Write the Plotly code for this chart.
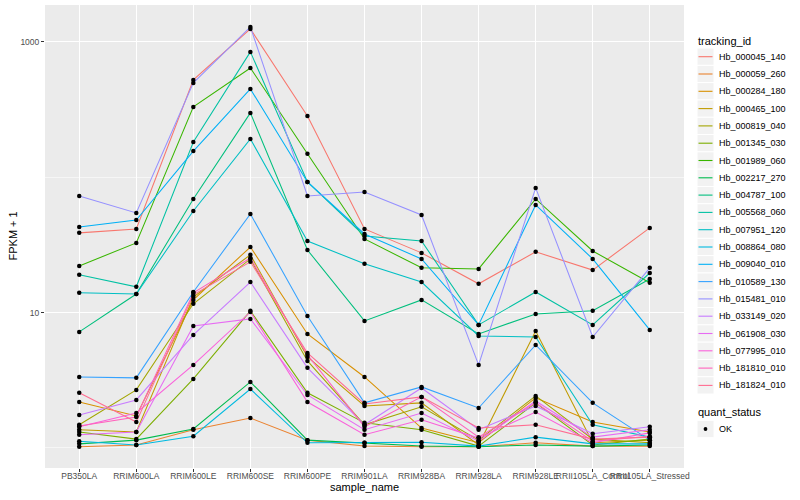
import plotly.graph_objects as go

samples = ["PB350LA", "RRIM600LA", "RRIM600LE", "RRIM600SE", "RRIM600PE", "RRIM901LA",
           "RRIM928BA", "RRIM928LA", "RRIM928LE", "RRII105LA_Control", "RRII105LA_Stressed"]

tracking_ids = ["Hb_000045_140", "Hb_000059_260", "Hb_000284_180", "Hb_000465_100",
                "Hb_000819_040", "Hb_001345_030", "Hb_001989_060", "Hb_002217_270",
                "Hb_004787_100", "Hb_005568_060", "Hb_007951_120", "Hb_008864_080",
                "Hb_009040_010", "Hb_010589_130", "Hb_015481_010", "Hb_033149_020",
                "Hb_061908_030", "Hb_077995_010", "Hb_181810_010", "Hb_181824_010"]

colors = ["#F8766D", "#EA8331", "#D89000", "#C09B00", "#A3A500", "#7CAE00", "#39B600",
          "#00BB4E", "#00BF7D", "#00C1A3", "#00BFC4", "#00BAE0", "#00B0F6", "#35A2FF",
          "#9590FF", "#C77CFF", "#E76BF3", "#FA62DB", "#FF62BC", "#FF6C91"]

# FPKM + 1 per sample (order of `samples`)
hb_000045_140 = [38.8, 41.5, 524, 1248, 284, 41.5, 27.6, 16.3, 28.1, 20.6, 42.2]
hb_000059_260 = [1.02, 1.05, 1.36, 1.66, 1.14, 1.03, 1.02, 1.02, 1.09, 1.03, 1.03]
hb_000284_180 = [2.18, 1.72, 12.4, 30.5, 6.95, 3.34, 1.40, 1.09, 2.34, 1.55, 1.31]
hb_000465_100 = [1.36, 1.31, 13.0, 26.7, 4.70, 2.04, 2.15, 1.05, 7.31, 1.09, 1.14]
hb_000819_040 = [1.48, 2.68, 11.6, 24.9, 4.39, 1.48, 2.01, 1.14, 2.42, 1.16, 1.09]
hb_001345_030 = [1.31, 1.16, 3.23, 10.3, 2.55, 1.53, 1.36, 1.03, 2.15, 1.05, 1.16]
hb_001989_060 = [22.1, 32.7, 331, 642, 149, 35.0, 21.4, 21.0, 69.1, 28.5, 16.6]
hb_002217_270 = [1.07, 1.14, 1.38, 3.07, 1.14, 1.09, 1.03, 1.02, 1.05, 1.03, 1.05]
hb_004787_100 = [7.19, 13.7, 69.1, 299, 29.0, 8.67, 12.4, 6.95, 9.77, 10.3, 17.7]
hb_005568_060 = [19.0, 15.5, 182, 844, 92.3, 36.8, 33.8, 8.10, 14.2, 8.10, 19.6]
hb_007951_120 = [14.0, 13.7, 56.3, 192, 33.8, 22.9, 16.8, 6.71, 6.60, 1.48, 1.20]
hb_008864_080 = [1.12, 1.05, 1.22, 2.72, 1.09, 1.09, 1.10, 1.03, 1.20, 1.07, 1.07]
hb_009040_010 = [42.9, 48.3, 156, 449, 92.3, 38.1, 24.9, 8.10, 62.4, 24.9, 7.44]
hb_010589_130 = [3.34, 3.29, 14.2, 53.5, 9.44, 2.15, 2.82, 1.97, 5.76, 2.15, 1.14]
hb_015481_010 = [72.7, 54.5, 498, 1291, 72.7, 77.9, 52.6, 4.10, 83.4, 6.60, 21.4]
hb_033149_020 = [1.75, 2.26, 6.83, 16.8, 3.90, 1.48, 2.77, 1.36, 2.04, 1.27, 1.43]
hb_061908_030 = [1.25, 1.31, 7.96, 8.97, 2.46, 1.36, 1.81, 1.12, 2.22, 1.20, 1.36]
hb_077995_010 = [1.43, 1.81, 4.10, 10.1, 2.18, 1.25, 1.61, 1.18, 1.84, 1.09, 1.29]
hb_181810_010 = [1.45, 1.69, 14.0, 25.3, 4.86, 1.43, 2.38, 1.20, 2.15, 1.12, 1.22]
hb_181824_010 = [2.55, 1.55, 13.5, 23.7, 5.03, 2.11, 2.38, 1.40, 1.48, 1.16, 1.20]

series = [hb_000045_140, hb_000059_260, hb_000284_180, hb_000465_100, hb_000819_040,
          hb_001345_030, hb_001989_060, hb_002217_270, hb_004787_100, hb_005568_060,
          hb_007951_120, hb_008864_080, hb_009040_010, hb_010589_130, hb_015481_010,
          hb_033149_020, hb_061908_030, hb_077995_010, hb_181810_010, hb_181824_010]

quant_status = ["OK"]

W, H = 800, 500
L, R, T, B = 45, 116, 5, 32
PW = W - L - R
PH = H - T - B

def px(x):
    return (x - L) / PW

def py(y):
    return (H - B - y) / PH

FONT = "Liberation Sans, Arial, Helvetica, sans-serif"

fig = go.Figure()
for name, vals, col in zip(tracking_ids, series, colors):
    fig.add_trace(go.Scatter(x=samples, y=vals, mode="lines", name=name,
                             line=dict(color=col, width=1.05), showlegend=False))

xs = [s for vals in series for s in samples]
ys = [v for vals in series for v in vals]
fig.add_trace(go.Scatter(x=xs, y=ys, mode="markers", name="OK",
                         marker=dict(color="black", size=4.5), showlegend=False))

shapes = []
annotations = []

# legend: tracking_id
annotations.append(dict(x=px(696), y=py(41), xref="paper", yref="paper", text="tracking_id",
                        showarrow=False, xanchor="left", yanchor="middle",
                        font=dict(size=11, color="black", family=FONT)))
step = 17.3
y0 = 56.7
for i, (name, col) in enumerate(zip(tracking_ids, colors)):
    yc = y0 + step * i
    shapes.append(dict(type="rect", xref="paper", yref="paper",
                       x0=px(697), x1=px(714), y0=py(yc - step / 2), y1=py(yc + step / 2),
                       fillcolor="#F2F2F2", line=dict(color="white", width=1), layer="above"))
    shapes.append(dict(type="line", xref="paper", yref="paper",
                       x0=px(698.5), x1=px(712.5), y0=py(yc), y1=py(yc),
                       line=dict(color=col, width=1.1), layer="above"))
    annotations.append(dict(x=px(717), y=py(yc), xref="paper", yref="paper", text=name,
                            showarrow=False, xanchor="left", yanchor="middle",
                            font=dict(size=9, color="black", family=FONT)))

# legend: quant_status
annotations.append(dict(x=px(696), y=py(412), xref="paper", yref="paper", text="quant_status",
                        showarrow=False, xanchor="left", yanchor="middle",
                        font=dict(size=11, color="black", family=FONT)))
for j, q in enumerate(quant_status):
    yc = 429 + step * j
    shapes.append(dict(type="rect", xref="paper", yref="paper",
                       x0=px(697), x1=px(714), y0=py(yc - step / 2), y1=py(yc + step / 2),
                       fillcolor="#F2F2F2", line=dict(color="white", width=1), layer="above"))
    shapes.append(dict(type="circle", xref="paper", yref="paper",
                       x0=px(703.6), x1=px(707.4), y0=py(yc - 1.9), y1=py(yc + 1.9),
                       fillcolor="black", line=dict(color="black", width=0), layer="above"))
    annotations.append(dict(x=px(717), y=py(yc), xref="paper", yref="paper", text=q,
                            showarrow=False, xanchor="left", yanchor="middle",
                            font=dict(size=9, color="black", family=FONT)))

# axis titles
annotations.append(dict(x=0.5, y=py(487), xref="paper", yref="paper", text="sample_name",
                        showarrow=False, xanchor="center", yanchor="middle",
                        font=dict(size=11, color="black", family=FONT)))
annotations.append(dict(x=px(12), y=0.5, xref="paper", yref="paper", text="FPKM + 1",
                        showarrow=False, xanchor="center", yanchor="middle", textangle=-90,
                        font=dict(size=11, color="black", family=FONT)))

fig.update_layout(
    width=W, height=H,
    margin=dict(l=L, r=R, t=T, b=B, autoexpand=False),
    paper_bgcolor="white",
    plot_bgcolor="#EBEBEB",
    font=dict(family=FONT, color="#4D4D4D"),
    showlegend=False,
    hovermode=False,
    shapes=shapes,
    annotations=annotations,
    xaxis=dict(type="category", categoryorder="array", categoryarray=samples,
               range=[-0.6, len(samples) - 0.4],
               showgrid=True, gridcolor="white", gridwidth=1.1,
               zeroline=False, showline=False,
               ticks="outside", ticklen=3, tickwidth=1, tickcolor="#333333",
               tickfont=dict(size=8.5, color="#4D4D4D", family=FONT),
               ticklabelstandoff=-3,
               tickangle=0, automargin=False),
    yaxis=dict(type="log", range=[-0.149, 3.273],
               tickmode="array", tickvals=[10, 1000], ticktext=["10", "1000"],
               showgrid=True, gridcolor="white", gridwidth=1.1,
               minor=dict(tickmode="array", tickvals=[1, 100], showgrid=True,
                          gridcolor="white", gridwidth=0.55, ticks=""),
               zeroline=False, showline=False,
               ticks="outside", ticklen=3, tickwidth=1, tickcolor="#333333",
               tickfont=dict(size=8.5, color="#4D4D4D", family=FONT),
               automargin=False),
)

fig.write_html("out.html",
               config={"displayModeBar": False, "staticPlot": True},
               post_script="document.body.style.margin='0';document.body.style.padding='0';")
